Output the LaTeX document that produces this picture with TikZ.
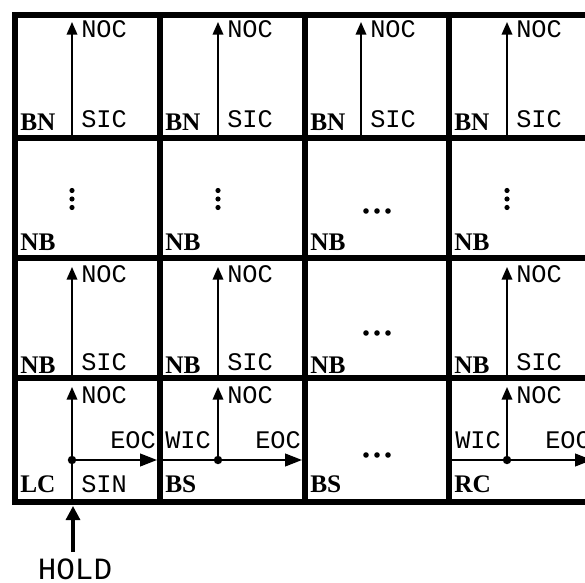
\documentclass[tikz,border=0pt]{standalone}
\usepackage{fontspec}
\setmainfont{Liberation Serif}
\setmonofont{Liberation Mono}
\usetikzlibrary{arrows.meta}

\begin{document}
\begin{tikzpicture}[
  x=0.025cm, y=-0.025cm,
  wall/.style={line width=4.4pt},
  sig/.style={line width=1.3pt, -{Triangle[length=9pt, width=7.5pt]}},
  bus/.style={line width=1.3pt, -{Triangle[length=12pt, width=9pt]}},
  holdline/.style={line width=2.2pt, -{Triangle[length=10pt, width=10pt]}},
  dot/.style={circle, fill=black, inner sep=0pt, minimum size=6pt},
  tag/.style={font=\fontsize{18}{18}\selectfont\bfseries, inner sep=0pt, anchor=base west},
  port/.style={font=\fontsize{18}{18}\selectfont\ttfamily, inner sep=0pt, anchor=base west},
]
\useasboundingbox (0,0) rectangle (585,583);
\clip (0,0) rectangle (585,583);
% frame and cell walls
\coordinate (nw) at (15,15);
\coordinate (se) at (594,502);
\draw[wall] (nw) rectangle (se);
\foreach \x in {160,305,449} \draw[wall] (\x,15) -- (\x,502);
\foreach \y in {138,258,378} \draw[wall] (15,\y) -- (594,\y);

% row 1: BN cells
\foreach \c/\l/\a in {1/15/72,2/160/218,3/305/361,4/449/507} {
  \coordinate (s1\c) at (\a,138);
  \coordinate (n1\c) at (\a,22);
  \draw[sig] (s1\c) -- (n1\c);
  \node[port] (noc1\c) at (\a+9,38) {NOC};
  \node[tag] (bn1\c) at (\l+5,131) {BN};
  \node[port] (sic1\c) at (\a+9,128) {SIC};
}

% row 2: NB cells
\foreach \c/\l in {1/15,2/160,3/305,4/449}
  \node[tag] (nb2\c) at (\l+5,251) {NB};
\foreach \a in {72,218,507}
  \foreach \y in {190.5,199,207.5} \fill (\a,\y) circle (2.6);
\foreach \x in {366,377,388} \fill (\x,211) circle (2.8);

% row 3: NB cells
\foreach \c/\l/\a in {1/15/72,2/160/218,4/449/507} {
  \coordinate (s3\c) at (\a,378);
  \coordinate (n3\c) at (\a,267);
  \draw[sig] (s3\c) -- (n3\c);
  \node[port] (noc3\c) at (\a+9,282) {NOC};
  \node[port] (sic3\c) at (\a+9,370) {SIC};
}
\foreach \c/\l in {1/15,2/160,3/305,4/449}
  \node[tag] (nb3\c) at (\l+5,373) {NB};
\foreach \x in {366,377,388} \fill (\x,333) circle (2.8);

% row 4: LC, BS, BS, RC
\coordinate (s41) at (72,502);
\coordinate (n41) at (72,387);
\node[dot] (j41) at (72,460) {};
\coordinate (e41) at (157,460);
\draw[sig] (s41) -- (n41);
\draw[bus] (j41.center) -- (e41);
\node[port] (noc41) at (81,403) {NOC};
\node[port] (eoc41) at (110,448) {EOC};
\node[tag] (lc) at (20,492) {LC};
\node[port] (sin) at (81,492) {SIN};

\coordinate (w42) at (160,460);
\node[dot] (j42) at (218,460) {};
\coordinate (n42) at (218,387);
\coordinate (e42) at (302,460);
\draw[sig] (j42.center) -- (n42);
\draw[bus] (w42) -- (e42);
\node[port] (noc42) at (227,403) {NOC};
\node[port] (wic42) at (165,448) {WIC};
\node[port] (eoc42) at (255,448) {EOC};
\node[tag] (bs42) at (165,492) {BS};

\foreach \x in {366,377,388} \fill (\x,455) circle (2.8);
\node[tag] (bs43) at (310,492) {BS};

\coordinate (w44) at (449,460);
\node[dot] (j44) at (507,460) {};
\coordinate (n44) at (507,387);
\coordinate (e44) at (592,460);
\draw[sig] (j44.center) -- (n44);
\draw[bus] (w44) -- (e44);
\node[port] (noc44) at (516,403) {NOC};
\node[port] (wic44) at (455,448) {WIC};
\node[port] (eoc44) at (545,448) {EOC};
\node[tag] (rc) at (454,492) {RC};

% HOLD input
\node[font=\fontsize{22}{22}\selectfont\ttfamily, inner sep=0pt, anchor=base] (hold) at (75,579) {HOLD};
\coordinate (h0) at (73,552);
\coordinate (h1) at (73,506);
\draw[holdline] (h0) -- (h1);
\end{tikzpicture}
\end{document}
